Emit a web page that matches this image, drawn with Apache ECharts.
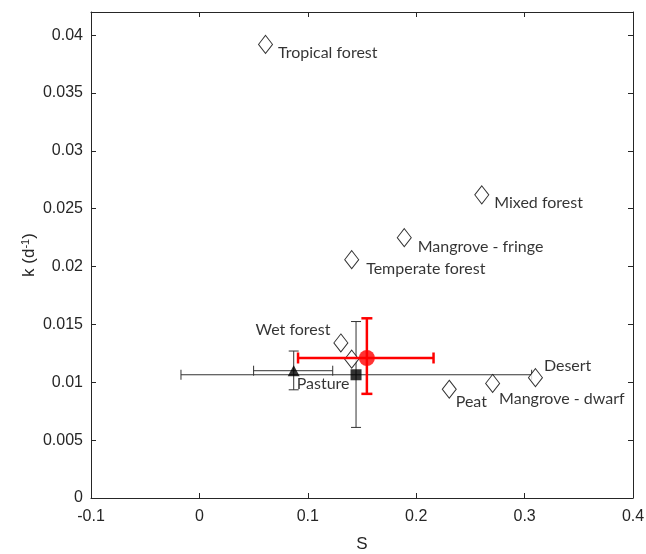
<!DOCTYPE html>
<html>
<head>
<meta charset="utf-8">
<script src="https://cdn.jsdelivr.net/npm/echarts@6/dist/echarts.min.js"></script>
<style>
  html, body { margin: 0; padding: 0; background: #fff; }
  #chart { width: 646px; height: 554px; }
</style>
</head>
<body>
<div id="chart"></div>
<script>
// ecosystem sites (open diamonds)
const siteNames = ['Tropical forest', 'Mixed forest', 'Mangrove - fringe', 'Temperate forest',
  'Wet forest', '', 'Peat', 'Mangrove - dwarf', 'Desert'];
const siteS = [0.061, 0.2605, 0.189, 0.1405, 0.1305, 0.1405, 0.2305, 0.2705, 0.310];
const siteK = [0.0392, 0.0262, 0.0225, 0.0206, 0.0134, 0.0120, 0.0094, 0.0099, 0.0104];

// summary points with error bars: [S, k, S low, S high, k low, k high]
const pasture = [0.087, 0.0110, 0.050, 0.123, 0.00935, 0.0127];
const squareMean = [0.1445, 0.01065, -0.017, 0.3065, 0.0061, 0.01525];
const redMean = [0.1545, 0.0121, 0.091, 0.216, 0.0090, 0.01553];

const xTicks = { min: -0.1, max: 0.4, interval: 0.1 };
const yTicks = { min: 0, max: 0.042, interval: 0.005 };

// where each site label sits relative to its marker
const labelPlace = {
  'Tropical forest': { position: 'right', offset: [0, 8] },
  'Mixed forest': { position: 'right', offset: [0, 8] },
  'Mangrove - fringe': { position: 'right', offset: [1, 9] },
  'Temperate forest': { position: 'right', offset: [2, 9] },
  'Wet forest': { position: 'left', offset: [2, -13] },
  'Peat': { position: 'right', offset: [-6, 13] },
  'Mangrove - dwarf': { position: 'right', offset: [-6, 15] },
  'Desert': { position: 'right', offset: [-4, -12] }
};

const axisColor = '#262626';
const labelFont = 'Lato';
const tickFont = 'Liberation Sans';

function errorBars(color, width, cap) {
  return function (params, api) {
    const x = api.value(0), y = api.value(1);
    const left = api.coord([api.value(2), y]);
    const right = api.coord([api.value(3), y]);
    const bottom = api.coord([x, api.value(4)]);
    const top = api.coord([x, api.value(5)]);
    const style = { stroke: color, lineWidth: width };
    const line = (x1, y1, x2, y2) => ({ type: 'line', shape: { x1, y1, x2, y2 }, style });
    return {
      type: 'group',
      children: [
        line(left[0], left[1], right[0], right[1]),
        line(left[0], left[1] - cap, left[0], left[1] + cap),
        line(right[0], right[1] - cap, right[0], right[1] + cap),
        line(bottom[0], bottom[1], top[0], top[1]),
        line(bottom[0] - cap, bottom[1], bottom[0] + cap, bottom[1]),
        line(top[0] - cap, top[1], top[0] + cap, top[1])
      ]
    };
  };
}

const siteData = siteNames.map((name, i) => {
  const place = labelPlace[name] || { position: 'right', offset: [0, 8] };
  return {
    name,
    value: [siteS[i], siteK[i]],
    label: { show: name !== '', position: place.position, offset: place.offset }
  };
});

const boxAxis = {
  axisLine: { show: true, onZero: false, lineStyle: { color: axisColor } },
  axisTick: { show: true, inside: true, length: 5, lineStyle: { color: axisColor } },
  splitLine: { show: false }
};

const chart = echarts.init(document.getElementById('chart'));
chart.setOption({
  animation: false,
  grid: { left: 91, right: 13, top: 12, bottom: 56, outerBoundsMode: 'none' },
  xAxis: [Object.assign({
    type: 'value', min: xTicks.min, max: xTicks.max, interval: xTicks.interval,
    name: 'S', nameLocation: 'middle', nameGap: 38,
    nameTextStyle: { color: axisColor, fontSize: 17, fontFamily: tickFont },
    axisLabel: { color: axisColor, fontSize: 16, fontFamily: tickFont, margin: 11 }
  }, boxAxis), Object.assign({
    type: 'value', position: 'top', min: xTicks.min, max: xTicks.max, interval: xTicks.interval,
    axisLabel: { show: false }
  }, boxAxis)],
  yAxis: [Object.assign({
    type: 'value', min: yTicks.min, max: yTicks.max, interval: yTicks.interval,
    name: '{a|k (d}{s|-1}{a|)}', nameLocation: 'middle', nameGap: 52, nameRotate: 90,
    nameMoveOverlap: false,
    nameTextStyle: {
      rich: {
        a: { color: axisColor, fontSize: 17, fontFamily: tickFont },
        s: { color: axisColor, fontSize: 11, fontFamily: tickFont, verticalAlign: 'top', padding: [0, 0, 8, 0] }
      }
    },
    axisLabel: { color: axisColor, fontSize: 16, fontFamily: tickFont, margin: 8, showMaxLabel: false }
  }, boxAxis), Object.assign({
    type: 'value', position: 'right', min: yTicks.min, max: yTicks.max, interval: yTicks.interval,
    axisLabel: { show: false }
  }, boxAxis)],
  series: [
    {
      type: 'custom', name: 'square bars', z: 2,
      renderItem: errorBars('#333', 1, 5),
      data: [squareMean]
    },
    {
      type: 'custom', name: 'pasture bars', z: 2,
      renderItem: errorBars('#333', 1, 5),
      data: [pasture]
    },
    {
      type: 'scatter', name: 'sites', z: 3,
      symbol: 'diamond', symbolSize: [14, 18],
      itemStyle: { color: '#fff', borderColor: '#000', borderWidth: 1 },
      label: {
        formatter: '{b}', color: '#000', fontSize: 16, fontFamily: labelFont
      },
      data: siteData
    },
    {
      type: 'scatter', name: 'pasture', z: 4,
      symbol: 'triangle', symbolSize: [12, 11],
      itemStyle: { color: '#000' },
      label: {
        show: true, formatter: 'Pasture', position: 'right', offset: [-8, 13],
        color: '#000', fontSize: 16, fontFamily: labelFont
      },
      data: [pasture.slice(0, 2)]
    },
    {
      type: 'scatter', name: 'square', z: 4,
      symbol: 'rect', symbolSize: 11,
      itemStyle: { color: '#000' },
      data: [squareMean.slice(0, 2)]
    },
    {
      type: 'custom', name: 'red bars', z: 5,
      renderItem: errorBars('#ff0000', 2.5, 5.5),
      data: [redMean]
    },
    {
      type: 'scatter', name: 'red mean', z: 6,
      symbol: 'circle', symbolSize: 16,
      itemStyle: { color: '#ff0000' },
      data: [redMean.slice(0, 2)]
    }
  ]
});
</script>
</body>
</html>
